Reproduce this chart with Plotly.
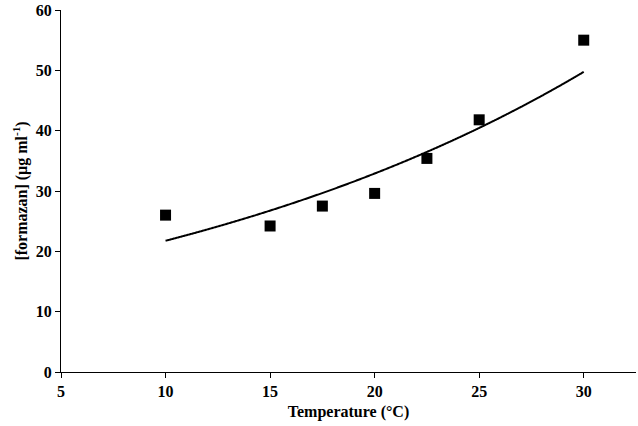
import numpy as np
import plotly.graph_objects as go

temperature = [10, 15, 17.5, 20, 22.5, 25, 30]
formazan = [26.0, 24.2, 27.5, 29.6, 35.4, 41.8, 55.0]

# Exponential trendline (least squares on log scale, as Excel does)
b, ln_a = np.polyfit(temperature, np.log(formazan), 1)
fit_x = np.linspace(min(temperature), max(temperature), 300)
fit_y = np.exp(ln_a + b * fit_x)

font = dict(family="Liberation Serif, Times New Roman, serif", color="black")

fig = go.Figure()
fig.add_trace(go.Scatter(x=fit_x, y=fit_y, mode="lines",
                         line=dict(color="black", width=2, shape="spline"), showlegend=False,
                         hoverinfo="skip"))
fig.add_trace(go.Scatter(x=temperature, y=formazan, mode="markers",
                         marker=dict(symbol="square", size=11, color="black"),
                         showlegend=False))

fig.update_layout(
    width=638, height=426,
    margin=dict(l=61, r=2, t=10, b=54),
    paper_bgcolor="white", plot_bgcolor="white",
    font=font,
    xaxis=dict(range=[5, 32.5], tickvals=[5, 10, 15, 20, 25, 30],
               ticktext=["<b>5</b>", "<b>10</b>", "<b>15</b>", "<b>20</b>", "<b>25</b>", "<b>30</b>"],
               showgrid=False, zeroline=False, showline=True, linecolor="black", linewidth=1,
               ticks="outside", ticklen=5, tickcolor="black", tickfont=dict(size=16, **font),
               automargin=False,
               title=dict(text="<b>Temperature (°C)</b>", font=dict(size=16, **font), standoff=6)),
    yaxis=dict(range=[0, 60], tickvals=[0, 10, 20, 30, 40, 50, 60],
               ticktext=["<b>%d</b>" % v for v in [0, 10, 20, 30, 40, 50, 60]],
               showgrid=False, zeroline=False, showline=True, linecolor="black", linewidth=1,
               ticks="outside", ticklen=5, tickcolor="black", tickfont=dict(size=16, **font),
               automargin=False,
               title=dict(text="<b>[formazan] (μg ml<sup>-1</sup>)</b>", font=dict(size=16, **font), standoff=4)),
)

fig.write_html("out.html", config={"displayModeBar": False},
               post_script="document.body.style.margin='0';")
